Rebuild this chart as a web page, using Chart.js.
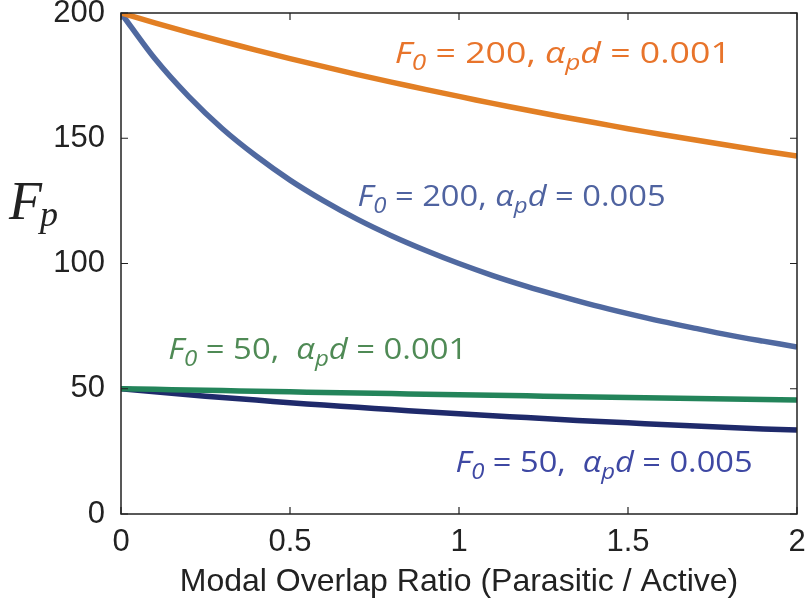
<!DOCTYPE html>
<html>
<head>
<meta charset="utf-8">
<script src="https://cdn.jsdelivr.net/npm/chart.js@4.4.1/dist/chart.umd.min.js"></script>
<style>
  html, body { margin: 0; padding: 0; background: #fff; }
  #wrap { width: 808px; height: 607px; position: relative; }
</style>
</head>
<body>
<div id="wrap"><canvas id="fpChart"></canvas></div>
<script>
// Modal overlap ratio (x)
const overlap = [0, 0.1, 0.2, 0.3, 0.4, 0.5, 0.6, 0.7, 0.8, 0.9, 1.0,
                 1.1, 1.2, 1.3, 1.4, 1.5, 1.6, 1.7, 1.8, 1.9, 2.0];

// F_p
const f200a001 = [200, 196.1, 192.3, 188.7, 185.2, 181.8, 178.6, 175.4, 172.4, 169.5, 166.7,
                  163.9, 161.3, 158.7, 156.3, 153.8, 151.5, 149.3, 147.1, 144.9, 142.9];
const f200a005 = [200, 181.8, 166.7, 153.8, 142.9, 133.3, 125.0, 117.6, 111.1, 105.3, 100.0,
                  95.2, 90.9, 87.0, 83.3, 80.0, 76.9, 74.1, 71.4, 69.0, 66.7];
const f50a001  = [50, 49.8, 49.5, 49.3, 49.0, 48.8, 48.5, 48.3, 48.1, 47.8, 47.6,
                  47.4, 47.2, 46.9, 46.7, 46.5, 46.3, 46.1, 45.9, 45.7, 45.5];
const f50a005  = [50, 48.8, 47.6, 46.5, 45.5, 44.4, 43.5, 42.6, 41.7, 40.8, 40.0,
                  39.2, 38.5, 37.7, 37.0, 36.4, 35.7, 35.1, 34.5, 33.9, 33.5];

// tick values
const xTicks = [0, 0.5, 1, 1.5, 2];
const yTicks = [0, 50, 100, 150, 200];

// curve annotations: [F0, alpha_p d]
const curveF0 = ["200", "200", "50", "50"];
const curveAd = ["0.001", "0.005", "0.001", "0.005"];

const pts = (ys) => ys.map((y, i) => ({ x: overlap[i], y: y }));

// label placement (data coords of left/baseline) and target width
const labelSpots = [
  { x: 0.81, y: 180, w: 336, color: "#E8742B", gap: " " },
  { x: 0.70, y: 123, w: 308, color: "#4F63A0", gap: " " },
  { x: 0.14, y: 62,  w: 299, color: "#4F8A55", gap: "  " },
  { x: 0.99, y: 16.8, w: 297, color: "#3E48A3", gap: "  " },
];

const lineColors = ["#E27F24", "#5069A0", "#23845A", "#1F2A6B"];

const frameAndLabels = {
  id: "frameAndLabels",
  afterDraw(chart) {
    const { ctx, chartArea: a, scales } = chart;
    const xs = scales.x, ys = scales.y;
    ctx.save();
    // box
    ctx.strokeStyle = "#222";
    ctx.lineWidth = 1.5;
    ctx.strokeRect(a.left, a.top, a.right - a.left, a.bottom - a.top);
    // inward ticks
    ctx.lineWidth = 1.2;
    const tl = 7;
    xTicks.forEach((v) => {
      const px = xs.getPixelForValue(v);
      ctx.beginPath();
      ctx.moveTo(px, a.bottom); ctx.lineTo(px, a.bottom - tl);
      ctx.moveTo(px, a.top); ctx.lineTo(px, a.top + tl);
      ctx.stroke();
    });
    yTicks.forEach((v) => {
      const py = ys.getPixelForValue(v);
      ctx.beginPath();
      ctx.moveTo(a.left, py); ctx.lineTo(a.left + tl, py);
      ctx.moveTo(a.right, py); ctx.lineTo(a.right - tl, py);
      ctx.stroke();
    });

    // y label F_p
    ctx.fillStyle = "#222";
    ctx.textBaseline = "alphabetic";
    ctx.textAlign = "left";
    ctx.font = "italic 54px 'Liberation Serif'";
    ctx.fillText("F", 9, 219);
    ctx.font = "italic 36px 'Liberation Serif'";
    ctx.fillText("p", 40, 226);

    // curve labels
    const big = 30, small = 22;
    labelSpots.forEach((s, i) => {
      const parts = [
        { t: "F", f: `italic ${big}px 'Open Sans'`, dy: 0 },
        { t: "0", f: `italic ${small}px 'Open Sans'`, dy: 7 },
        { t: " = " + curveF0[i] + "," + s.gap, f: `${big}px 'Open Sans'`, dy: 0 },
        { t: "\u03B1", f: `italic ${big}px 'Open Sans'`, dy: 0 },
        { t: "p", f: `italic ${small}px 'Open Sans'`, dy: 7 },
        { t: "d", f: `italic ${big}px 'Open Sans'`, dy: 0 },
        { t: " = " + curveAd[i], f: `${big}px 'Open Sans'`, dy: 0 },
      ];
      let total = 0;
      parts.forEach((p) => { ctx.font = p.f; p.w = ctx.measureText(p.t).width; total += p.w; });
      const sx = s.w / total;
      ctx.save();
      ctx.translate(xs.getPixelForValue(s.x), ys.getPixelForValue(s.y));
      ctx.scale(sx, 1);
      ctx.fillStyle = s.color;
      let cx = 0;
      parts.forEach((p) => { ctx.font = p.f; ctx.fillText(p.t, cx, p.dy); cx += p.w; });
      ctx.restore();
    });
    ctx.restore();
  },
};

const ds = (data, color) => ({
  data: pts(data),
  borderColor: color,
  borderWidth: 5.5,
  pointRadius: 0,
  tension: 0.3,
  fill: false,
});

new Chart(document.getElementById("fpChart"), {
  type: "line",
  data: {
    datasets: [
      ds(f200a001, lineColors[0]),
      ds(f200a005, lineColors[1]),
      ds(f50a001, lineColors[2]),
      ds(f50a005, lineColors[3]),
    ],
  },
  options: {
    responsive: true,
    maintainAspectRatio: false,
    animation: false,
    layout: { padding: { left: 0, right: 0, top: 13, bottom: 0 } },
    plugins: { legend: { display: false }, tooltip: { enabled: false } },
    scales: {
      x: {
        type: "linear",
        min: 0,
        max: 2,
        afterBuildTicks: (s) => { s.ticks = xTicks.map((v) => ({ value: v })); },
        afterFit: (s) => { s.height = 93; s.paddingLeft = 0; s.paddingRight = 11; },
        grid: { display: false },
        border: { display: false },
        ticks: {
          color: "#222",
          font: { family: "Liberation Sans", size: 31 },
          padding: 2,
          maxRotation: 0,
          callback: (v) => String(v),
        },
        title: {
          display: true,
          text: "Modal Overlap Ratio (Parasitic / Active)",
          color: "#222",
          font: { family: "Liberation Sans", size: 32 },
          padding: { top: 0, bottom: 6 },
        },
      },
      y: {
        min: 0,
        max: 200,
        afterBuildTicks: (s) => { s.ticks = yTicks.map((v) => ({ value: v })); },
        afterFit: (s) => { s.width = 121; s.paddingTop = 0; s.paddingBottom = 0; },
        grid: { display: false },
        border: { display: false },
        ticks: {
          color: "#222",
          font: { family: "Liberation Sans", size: 31 },
          padding: 8,
        },
      },
    },
  },
  plugins: [frameAndLabels],
});
</script>
</body>
</html>
